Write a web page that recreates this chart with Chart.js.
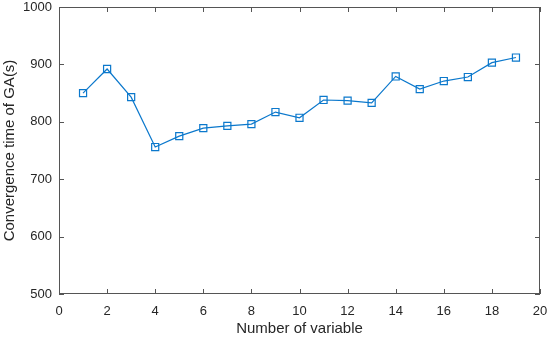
<!DOCTYPE html>
<html lang="en">
<head>
<meta charset="UTF-8">
<title>Convergence time of GA</title>
<script src="https://cdn.jsdelivr.net/npm/chart.js"></script>
<style>
  html, body { margin: 0; padding: 0; background: #fff; }
  #wrap { width: 550px; height: 338px; }
</style>
</head>
<body>
<div id="wrap"><canvas id="grafico" width="550" height="338"></canvas></div>
<script>
// datos
const variables = [1, 2, 3, 4, 5, 6, 7, 8, 9, 10, 11, 12, 13, 14, 15, 16, 17, 18, 19];
const tiempos = [850, 892, 843, 756, 775, 789, 793, 796, 817, 807, 838, 837, 833, 879, 857, 871, 878, 903, 912];
const xTicks = [0, 2, 4, 6, 8, 10, 12, 14, 16, 18, 20];
const yTicks = [500, 600, 700, 800, 900, 1000];

const azul = '#0B78CC';
const ejeColor = '#262626';
const fuente = "'Liberation Sans', Arial, sans-serif";

// marco y marcas hacia dentro, al estilo MATLAB
const marcoPlugin = {
  id: 'marco',
  afterDraw(chart) {
    const { ctx, chartArea: a, scales } = chart;
    ctx.save();
    ctx.strokeStyle = '#555';
    ctx.lineWidth = 1;
    ctx.strokeRect(a.left + 0.5, a.top + 0.5, a.right - a.left - 1, a.bottom - a.top - 1);
    const len = 5;
    ctx.beginPath();
    xTicks.forEach(v => {
      const x = Math.round(scales.x.getPixelForValue(v)) + 0.5;
      ctx.moveTo(x, a.bottom); ctx.lineTo(x, a.bottom - len);
      ctx.moveTo(x, a.top); ctx.lineTo(x, a.top + len);
    });
    yTicks.forEach(v => {
      const y = Math.round(scales.y.getPixelForValue(v)) + 0.5;
      ctx.moveTo(a.left, y); ctx.lineTo(a.left + len, y);
      ctx.moveTo(a.right, y); ctx.lineTo(a.right - len, y);
    });
    ctx.stroke();
    ctx.restore();
  }
};

const ctx = document.getElementById('grafico').getContext('2d');
new Chart(ctx, {
  type: 'line',
  data: {
    datasets: [{
      data: variables.map((v, i) => ({ x: v, y: tiempos[i] })),
      borderColor: azul,
      borderWidth: 1.2,
      pointStyle: 'rect',
      pointRadius: 5,
      pointBorderColor: azul,
      pointBackgroundColor: 'rgba(0,0,0,0)',
      pointBorderWidth: 1.2,
      tension: 0
    }]
  },
  options: {
    responsive: false,
    animation: false,
    layout: { padding: { top: 7, right: 10, left: 0, bottom: 0 } },
    plugins: { legend: { display: false }, tooltip: { enabled: false } },
    scales: {
      x: {
        type: 'linear',
        min: 0, max: 20,
        afterBuildTicks: s => { s.ticks = xTicks.map(v => ({ value: v })); },
        afterFit: s => { s.height = 44; s.paddingLeft = 0; s.paddingRight = 0; },
        grid: { display: false, drawTicks: false },
        border: { display: false },
        ticks: { color: ejeColor, font: { family: fuente, size: 13 }, padding: 10, maxRotation: 0, callback: v => String(v) },
        title: { display: true, text: 'Number of variable', color: ejeColor, font: { family: fuente, size: 15 }, padding: { top: 2, bottom: 0 } }
      },
      y: {
        min: 500, max: 1000,
        afterBuildTicks: s => { s.ticks = yTicks.map(v => ({ value: v })); },
        afterFit: s => { s.width = 59; s.paddingTop = 0; s.paddingBottom = 0; },
        grid: { display: false, drawTicks: false },
        border: { display: false },
        ticks: { color: ejeColor, font: { family: fuente, size: 13 }, padding: 7, callback: v => String(v) },
        title: { display: true, text: 'Convergence time of GA(s)', color: ejeColor, font: { family: fuente, size: 15 }, padding: { top: 1, bottom: 4 } }
      }
    }
  },
  plugins: [marcoPlugin]
});
</script>
</body>
</html>
